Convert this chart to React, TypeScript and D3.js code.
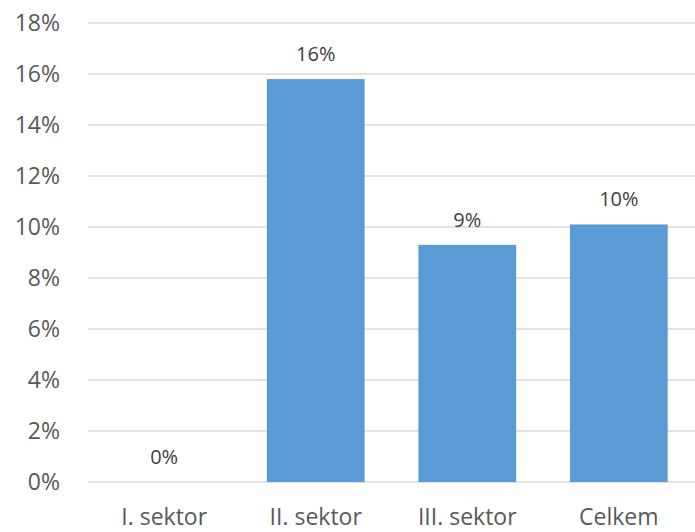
import React from "react";
import * as d3 from "d3";

const categories = ["I. sektor", "II. sektor", "III. sektor", "Celkem"];
const values = [0, 0.158, 0.093, 0.101];
const dataLabels = ["0%", "16%", "9%", "10%"];
const yTicks = [0, 0.02, 0.04, 0.06, 0.08, 0.1, 0.12, 0.14, 0.16, 0.18];

const W = 695;
const H = 532;
const FONT = "'Open Sans', 'Liberation Sans', sans-serif";

export default function App() {
  const left = 88, right = 695, top = 23, bottom = 482;
  const x = d3.scaleBand<string>().domain(categories).range([left, right]).paddingInner(0.355).paddingOuter(0.18);
  const y = d3.scaleLinear().domain([0, 0.18]).range([bottom, top]);
  const fmt = d3.format(".0%");
  return (
    <svg width={W} height={H} style={{ position: "absolute", left: 0, top: 0, background: "#fff" }}>
      {yTicks.map((t) => (
        <g key={t}>
          <line x1={left} x2={right} y1={y(t)} y2={y(t)} stroke="#d9d9d9" strokeWidth={1.3} />
          <text x={60} y={y(t)} dy="0.35em" textAnchor="end" fontFamily={FONT} fontSize={23} fill="#595959">
            {fmt(t)}
          </text>
        </g>
      ))}
      {categories.map((c, i) => (
        <g key={c}>
          <rect x={x(c)} y={y(values[i])} width={x.bandwidth()} height={bottom - y(values[i])} fill="#5b9bd5" />
          <text x={(x(c) as number) + x.bandwidth() / 2} y={y(values[i]) - 18} textAnchor="middle" fontFamily={FONT} fontSize={20} fill="#404040">
            {dataLabels[i]}
          </text>
          <text x={(x(c) as number) + x.bandwidth() / 2} y={525} textAnchor="middle" fontFamily={FONT} fontSize={23} fill="#595959">
            {c}
          </text>
        </g>
      ))}
    </svg>
  );
}
